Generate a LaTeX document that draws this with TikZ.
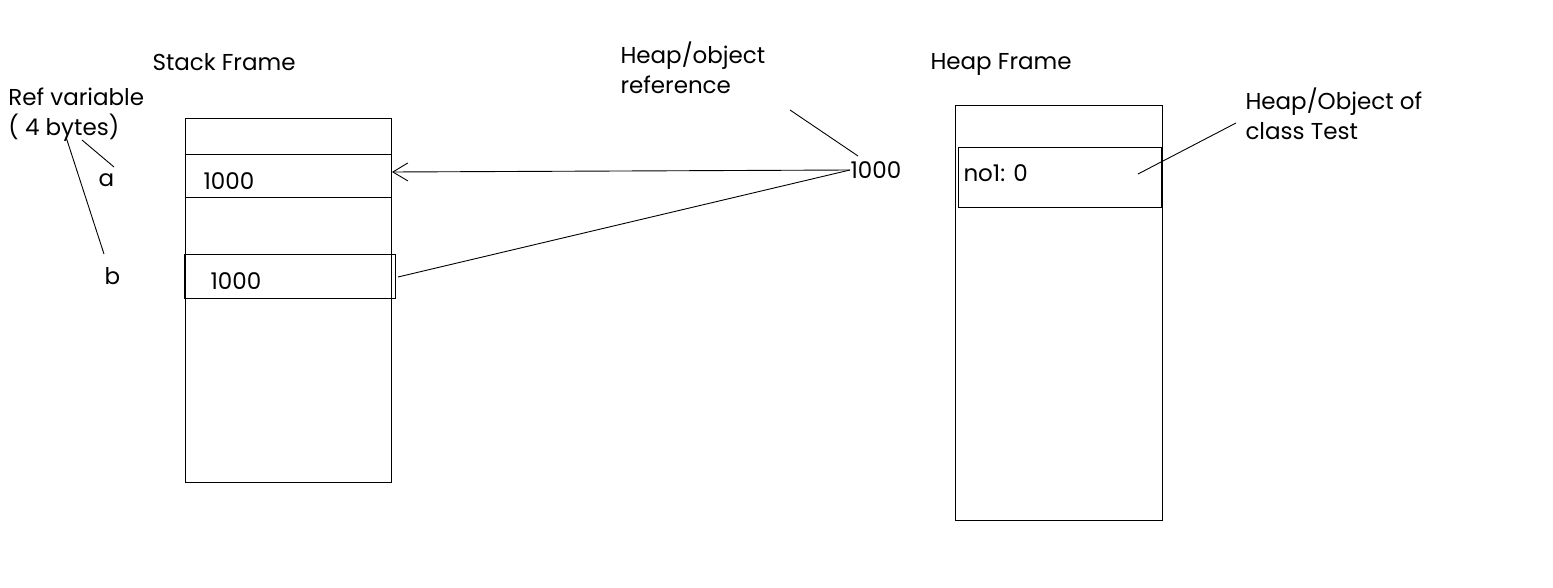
\documentclass[tikz,border=0pt]{standalone}
\usepackage{fontspec}
\setmainfont{Poppins}
\usetikzlibrary{arrows.meta}
\begin{document}
\begin{tikzpicture}[x=1pt,y=-1pt,line width=1pt,
  lbl/.style={anchor=west,inner sep=0pt,font=\fontsize{23}{30}\selectfont,align=left},
  box/.style={draw,line width=1pt,inner sep=0pt},
  conn/.style={line width=0.9pt}]
\useasboundingbox[fill=white] (0,0) rectangle (1553,588);
% stack frame
\node[box,minimum width=206pt,minimum height=363pt] (stack) at (288,300.5) {};
\draw (stack.west |- 0,155) -- (stack.east |- 0,155);
\draw (stack.west |- 0,198) -- (stack.east |- 0,198);
\node[box,minimum width=211pt,minimum height=43pt] (slotb) at (289.5,276.5) {};
\coordinate (slota) at (392,172);
\node[lbl] (va) at (203,181) {1000};
\node[lbl] (vb) at (210,281) {1000};
\node[lbl] (stitle) at (152,62) {Stack Frame};
\node[lbl] (refvar) at (8,115) {Ref variable\\( 4 bytes)};
\node[lbl] (a) at (98,180) {a};
\node[lbl] (b) at (104,276) {b};
\coordinate (ra) at (82,140);
\coordinate (rb) at (66,137);
\draw[conn] (ra) -- (114,167);
\draw[conn] (rb) -- (104,254);
% reference
\node[lbl] (ref) at (850,170) {1000};
\node[lbl] (reftxt) at (620,68) {Heap/object\\reference};
\draw[conn] (790,110) -- (858,156);
\draw[conn,-{Straight Barb[length=15pt,width=18pt]}] (ref.west) -- (slota);
\draw[conn] (ref.west) -- (398,277);
% heap frame
\node[lbl] (htitle) at (930,64) {Heap Frame};
\node[box,minimum width=207pt,minimum height=414pt] (heap) at (1058.5,313) {};
\node[box,minimum width=203pt,minimum height=60pt] (obj) at (1059.5,178) {};
\node[lbl] (no1) at (963,173) {no1: 0};
\node[lbl] (objtxt) at (1245,114) {Heap/Object of\\class Test};
\draw[conn] (1138,174) -- (1236,123);
\end{tikzpicture}
\end{document}
